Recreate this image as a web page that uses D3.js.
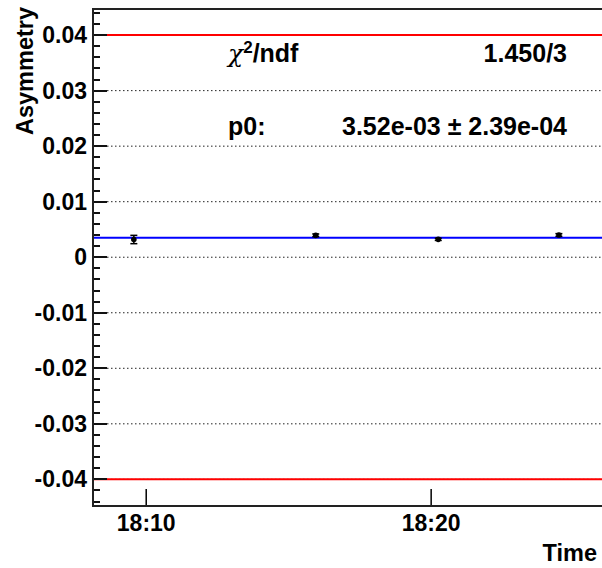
<!DOCTYPE html>
<html><head><meta charset="utf-8">
<script src="https://cdn.jsdelivr.net/npm/d3@7"></script>
<style>body{margin:0;background:#fff}svg{display:block}text{font-family:"Liberation Sans",Arial,Helvetica,sans-serif;font-weight:bold}</style>
</head><body>
<script>
// ---- data ----
const times = ["18:09:35", "18:15:58", "18:20:16", "18:24:30"];
const values = [0.00319, 0.00394, 0.00322, 0.00400];
const errors = [0.00075, 0.00025, 0.00020, 0.00025];
const yTickValues = [-0.04, -0.03, -0.02, -0.01, 0, 0.01, 0.02, 0.03, 0.04];
const xTickLabels = ["18:10", "18:20"];
const fitValue = 0.00352;
const limitLines = [0.04, -0.04];
const statsLabels = ["\u03c7\u00b2/ndf", "p0:"];
const statsValues = ["1.450/3", "3.52e-03 \u00b1 2.39e-04"];
const xDomain = ["18:08:09", "18:26:05"];
const yDomain = [-0.0448, 0.0447];

const W = 602, H = 568;
const L = 93, T = 9, R = 604, B = 506;
const parse = d3.timeParse("%H:%M:%S");
const parseHM = d3.timeParse("%H:%M");

const svg = d3.select("body").append("svg").attr("width", W).attr("height", H);
const x = d3.scaleTime().domain(xDomain.map(parse)).range([L, R]);
const y = d3.scaleLinear().domain(yDomain).range([B, T]);

// grid (dotted)
svg.append("g").selectAll("line").data(yTickValues).join("line")
  .attr("x1", L + 14).attr("x2", R).attr("y1", d => y(d)).attr("y2", d => y(d))
  .attr("stroke", "#222").attr("stroke-width", 1).attr("stroke-dasharray", "1.5,2.5");

// limit lines (red)
svg.append("g").selectAll("line").data(limitLines).join("line")
  .attr("x1", L).attr("x2", R).attr("y1", d => y(d)).attr("y2", d => y(d))
  .attr("stroke", "#ff0000").attr("stroke-width", 2);

// fit line (blue)
svg.append("line").attr("x1", L).attr("x2", R).attr("y1", y(fitValue)).attr("y2", y(fitValue))
  .attr("stroke", "#0000ff").attr("stroke-width", 2);

// y axis ticks (major + minor)
const yMinor = d3.range(-22, 23).map(k => k * 0.002);
const isMajor = v => yTickValues.some(t => Math.abs(t - v) < 1e-6);
svg.append("g").selectAll("rect").data(yMinor).join("rect")
  .attr("x", L).attr("y", d => Math.round(y(d)) - 1)
  .attr("width", d => isMajor(d) ? 14 : 7).attr("height", 2)
  .attr("fill", "#111");

const yLab = svg.append("g").attr("transform", `translate(${L},0)`)
  .call(d3.axisLeft(y).tickValues(yTickValues).tickSize(0).tickPadding(6)
    .tickFormat(d => d === 0 ? "0" : d3.format(".2f")(d).replace("\u2212", "-")));
yLab.select(".domain").remove();
yLab.selectAll("text").attr("font-size", 23).attr("fill", "#000")
  .attr("font-family", "Liberation Sans, Arial, sans-serif").attr("font-weight", "bold");

// x axis
const xAx = svg.append("g").attr("transform", `translate(0,${B})`)
  .call(d3.axisBottom(x).tickValues(xTickLabels.map(parseHM)).tickSize(0).tickPadding(8)
    .tickFormat(d3.timeFormat("%H:%M")));
xAx.select(".domain").remove();
xAx.selectAll(".tick").append("line").attr("y1", 0).attr("y2", -17).attr("stroke", "#000").attr("stroke-width", 1.5);
xAx.selectAll("text").attr("font-size", 23).attr("fill", "#000").attr("dy", null).attr("y", 25)
  .attr("font-family", "Liberation Sans, Arial, sans-serif").attr("font-weight", "bold");

// frame
svg.append("path").attr("d", `M${R},${T}H${L}V${B}H${R}`).attr("fill", "none")
  .attr("stroke", "#222").attr("stroke-width", 2);

// data points
const pts = times.map((t, i) => ({ t: parse(t), v: values[i], e: errors[i] }));
const g = svg.append("g");
pts.forEach(p => {
  const cx = x(p.t);
  g.append("line").attr("x1", cx).attr("x2", cx).attr("y1", y(p.v - p.e)).attr("y2", y(p.v + p.e))
    .attr("stroke", "#000").attr("stroke-width", 1.5);
  [p.v - p.e, p.v + p.e].forEach(v => g.append("line").attr("x1", cx - 3.5).attr("x2", cx + 3.5)
    .attr("y1", y(v)).attr("y2", y(v)).attr("stroke", "#000").attr("stroke-width", 1.5));
  g.append("circle").attr("cx", cx).attr("cy", y(p.v)).attr("r", 2.8).attr("fill", "#000");
});

// axis titles
svg.append("text").attr("transform", "translate(33,7) rotate(-90)").attr("text-anchor", "end")
  .attr("font-size", 23.5).text("Asymmetry");
svg.append("text").attr("x", 597).attr("y", 561).attr("text-anchor", "end")
  .attr("font-size", 23.5).text("Time");

// stats text
const statY = [62, 135];
statsLabels.forEach((s, i) => {
  const t = svg.append("text").attr("x", 228).attr("y", statY[i]).attr("font-size", 25);
  if (i === 0) {
    t.append("tspan").attr("font-weight", "normal").attr("font-family", "DejaVu Serif, serif").attr("font-style", "italic").text("\u03c7");
    t.append("tspan").attr("font-size", 17).attr("dy", -9).text("2");
    t.append("tspan").attr("dy", 9).text("/ndf");
  } else t.text(s);
  svg.append("text").attr("x", 567).attr("y", statY[i]).attr("text-anchor", "end").attr("font-size", 25).text(statsValues[i]);
});
</script>
</body></html>
